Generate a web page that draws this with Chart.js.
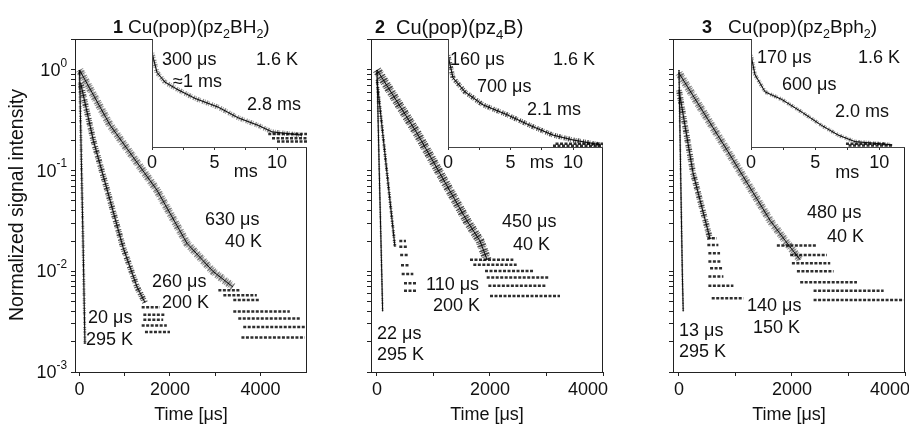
<!DOCTYPE html>
<html>
<head>
<meta charset="utf-8">
<script src="https://cdn.jsdelivr.net/npm/chart.js@4.4.1/dist/chart.umd.min.js"></script>
<style>
  body { margin: 0; background: #fff; }
  #wrap { position: relative; width: 909px; height: 425px; }
  #wrap canvas { position: absolute; left: 0; top: 0; }
</style>
</head>
<body>
<div id="wrap">
  <canvas id="m1" width="909" height="425"></canvas>
  <canvas id="m2" width="909" height="425"></canvas>
  <canvas id="m3" width="909" height="425"></canvas>
  <canvas id="i1" width="909" height="425"></canvas>
  <canvas id="i2" width="909" height="425"></canvas>
  <canvas id="i3" width="909" height="425"></canvas>
</div>
<script>
// ---- axes ----
const yMin = 1e-3, yMax = 2.03;
const yLabelExps = [0, -1, -2, -3];
const xMajorTicks = [0, 2000, 4000];
const xMinorTicks = [1000, 3000];
const insetMajorTicks = [0, 5, 10];
const insetMinorTicks = [2.5, 7.5];

// ---- panel 1: Cu(pop)(pz2BH2), time in µs ----
const p1_40K_t = [0, 674, 1712, 2375, 2950, 3390];
const p1_40K_I = [1.0, 0.284, 0.064, 0.019, 0.010, 0.0070];
const p1_200K_t = [25, 305, 674, 961, 1271, 1447];
const p1_200K_I = [0.74, 0.20, 0.051, 0.0174, 0.0070, 0.0049];
const p1_295K_t = [0, 40, 80, 120];
const p1_295K_I = [1.0, 0.13, 0.018, 0.0019];
// detector floor (quantised rows): level, start, end
const p1_40K_floorI = [0.0065, 0.0058, 0.0052, 0.0040, 0.0034, 0.0028, 0.0022];
const p1_40K_floorA = [3070, 3180, 3400, 3400, 3510, 3620, 3580];
const p1_40K_floorB = [3550, 3920, 3990, 4650, 4870, 4980, 4980];
const p1_200K_floorI = [0.0044, 0.0037, 0.0033, 0.0029, 0.0025];
const p1_200K_floorA = [1374, 1411, 1411, 1374, 1447];
const p1_200K_floorB = [1780, 1890, 1850, 1930, 2000];

// ---- panel 2: Cu(pop)(pz4B) ----
const p2_40K_t = [0, 708, 1588, 1823, 1950];
const p2_40K_I = [1.0, 0.236, 0.032, 0.020, 0.013];
const p2_200K_t = [0, 177, 318];
const p2_200K_I = [0.8, 0.095, 0.0175];
const p2_295K_t = [0, 40, 80, 100];
const p2_295K_I = [1.0, 0.1, 0.012, 0.004];
const p2_40K_floorI = [0.0130, 0.0116, 0.0101, 0.0087, 0.0072, 0.0057];
const p2_40K_floorA = [1646, 1705, 1912, 1942, 1971, 2000];
const p2_40K_floorB = [2413, 2472, 2767, 3032, 3003, 3239];
const p2_200K_floorI = [0.020, 0.0175, 0.0145, 0.0115, 0.0094, 0.0076, 0.0064];
const p2_200K_floorA = [395, 395, 410, 425, 437, 478, 478];
const p2_200K_floorB = [513, 537, 555, 584, 643, 702, 714];

// ---- panel 3: Cu(pop)(pz2Bph2) ----
const p3_40K_t = [0, 850, 1613, 1915, 2145];
const p3_40K_I = [0.93, 0.16, 0.032, 0.019, 0.013];
const p3_150K_t = [0, 248, 372, 550];
const p3_150K_I = [0.63, 0.095, 0.051, 0.021];
const p3_295K_t = [0, 30, 60, 75];
const p3_295K_I = [1.0, 0.09, 0.009, 0.004];
const p3_40K_floorI = [0.018, 0.0145, 0.012, 0.010, 0.0078, 0.0064, 0.0052];
const p3_40K_floorA = [1732, 1968, 1998, 2087, 2145, 2382, 2382];
const p3_40K_floorB = [2441, 2618, 2677, 2736, 3150, 3622, 3977];
const p3_150K_floorI = [0.0213, 0.0183, 0.0151, 0.0125, 0.0107, 0.0089, 0.0072, 0.0054];
const p3_150K_floorA = [502, 502, 520, 520, 550, 520, 520, 579];
const p3_150K_floorB = [668, 697, 727, 757, 786, 786, 963, 1140];

// ---- insets, 1.6 K, time in ms, linear intensity ----
const in1_t = [0, 0.4, 1.04, 2.08, 3.44, 5.28, 6.9, 8.5, 9.6, 12.0];
const in1_I = [0.87, 0.69, 0.60, 0.53, 0.45, 0.37, 0.27, 0.20, 0.14, 0.11];
const in2_t = [0, 0.4, 1.36, 2.8, 4.7, 6.56, 8.4, 10, 12.2];
const in2_I = [0.85, 0.64, 0.51, 0.39, 0.30, 0.20, 0.11, 0.065, 0.02];
const in3_t = [0, 0.31, 1.1, 2.4, 4.0, 5.5, 6.8, 8.1, 11.0];
const in3_I = [0.85, 0.67, 0.51, 0.44, 0.32, 0.20, 0.11, 0.05, 0.02];
const in1_floorI = [0.12, 0.08, 0.05];
const in1_floorA = [9.3, 9.6, 10.0];
const in1_floorB = [12.4, 12.4, 12.4];
const in2_floorI = [0.03, 0.012];
const in2_floorA = [8.6, 8.4];
const in2_floorB = [12.4, 12.4];
const in3_floorI = [0.03, 0.015];
const in3_floorA = [7.4, 7.6];
const in3_floorB = [10.5, 11.0];

const FONT = '"Liberation Sans", Arial, sans-serif';
const INK = '#111';

const yTickVals = [];
for (let e = -3; e <= 0; e++) {
  for (let m = 1; m <= 9; m++) {
    const v = Number((m * Math.pow(10, e)).toPrecision(3));
    if (v <= yMax) yTickVals.push(v);
  }
}

function pts(t, I) { return t.map((x, i) => ({ x: x, y: I[i] })); }

// noisy band = wide irregular-dash stroke (stipple look) + soft middle + thin core
const STIPPLE = [0.8, 1.3, 1.6, 0.9, 0.7, 2.1, 1.2, 1.0];
function decay(t, I, w, shade) {
  return [
    { data: pts(t, I), showLine: true, borderColor: shade, borderWidth: w,
      borderDash: STIPPLE, pointRadius: 0 },
    { data: pts(t, I), showLine: true, borderColor: 'rgba(0,0,0,0.22)', borderWidth: Math.max(w - 3, 1.5),
      pointRadius: 0 },
    { data: pts(t, I), showLine: true, borderColor: '#111', borderWidth: 1, pointRadius: 0 }
  ];
}

function floorRows(I, a, b) {
  return I.map((v, i) => ({
    data: [{ x: a[i], y: v }, { x: b[i], y: v }], showLine: true,
    borderColor: 'rgba(10,10,10,0.85)', borderWidth: 2.5, borderDash: [3, 1.5], pointRadius: 0
  }));
}

function txt(ctx, s, x, y, size, align, bold) {
  ctx.font = (bold ? 'bold ' : '') + size + 'px ' + FONT;
  ctx.fillStyle = INK;
  ctx.textAlign = align || 'left';
  ctx.textBaseline = 'middle';
  ctx.fillText(s, x, y);
}

// parts: [text, 'sub' | 'sup' | '']
function richWidth(ctx, parts, size) {
  let w = 0;
  parts.forEach(([s, k]) => {
    ctx.font = (k ? size * 0.66 : size) + 'px ' + FONT;
    w += ctx.measureText(s).width;
  });
  return w;
}
function rich(ctx, parts, x, y, size) {
  let cx = x;
  ctx.fillStyle = INK;
  ctx.textAlign = 'left';
  ctx.textBaseline = 'middle';
  parts.forEach(([s, k]) => {
    ctx.font = (k ? size * 0.66 : size) + 'px ' + FONT;
    const dy = k === 'sub' ? size * 0.36 : (k === 'sup' ? -size * 0.42 : 0);
    ctx.fillText(s, cx, y + dy);
    cx += ctx.measureText(s).width;
  });
}

const tickGrid = { drawOnChartArea: false, drawTicks: true, tickLength: 4, color: '#222', lineWidth: 1 };

function mainChart(id, datasets, xMin, xMax, pad, yWidth, extra) {
  new Chart(document.getElementById(id), {
    type: 'scatter',
    data: { datasets: datasets },
    options: {
      responsive: false, animation: false, events: [],
      layout: { padding: pad },
      plugins: { legend: { display: false }, tooltip: { enabled: false } },
      scales: {
        x: {
          type: 'linear', min: xMin, max: xMax,
          ticks: { display: false }, grid: tickGrid, border: { display: false },
          afterBuildTicks: s => { s.ticks = xMajorTicks.concat(xMinorTicks).map(v => ({ value: v })); },
          afterFit: s => { s.height = 53; }
        },
        y: {
          type: 'logarithmic', min: yMin, max: yMax,
          ticks: { display: false }, grid: tickGrid, border: { display: false },
          afterBuildTicks: s => { s.ticks = yTickVals.map(v => ({ value: v })); },
          afterFit: s => { s.width = yWidth; }
        }
      }
    },
    plugins: [{
      id: 'deco',
      afterDraw(chart) {
        const ctx = chart.ctx, a = chart.chartArea, sx = chart.scales.x;
        ctx.save();
        ctx.strokeStyle = '#222';
        ctx.lineWidth = 1;
        ctx.strokeRect(a.left + 0.5, a.top + 0.5, a.right - a.left - 1, a.bottom - a.top);
        xMajorTicks.forEach(v => {
          const px = sx.getPixelForValue(v);
          if (px > a.right - 2) txt(ctx, String(v), px + 5, 390, 18, 'right');
          else txt(ctx, String(v), px, 390, 18, 'center');
        });
        txt(ctx, 'Time [\u03bcs]', (a.left + a.right) / 2, 415, 18, 'center');
        extra(ctx, chart);
        ctx.restore();
      }
    }]
  });
}

function insetChart(id, datasets, xMax, pad, msDy, notes) {
  new Chart(document.getElementById(id), {
    type: 'scatter',
    data: { datasets: datasets },
    options: {
      responsive: false, animation: false, events: [],
      layout: { padding: pad },
      plugins: { legend: { display: false }, tooltip: { enabled: false } },
      scales: {
        x: {
          type: 'linear', min: 0, max: xMax,
          ticks: { display: false }, grid: { drawOnChartArea: false, drawTicks: true, tickLength: 3, color: '#333' },
          border: { display: false },
          afterBuildTicks: s => { s.ticks = insetMajorTicks.concat(insetMinorTicks).map(v => ({ value: v })); },
          afterFit: s => { s.height = 278; }
        },
        y: { type: 'linear', min: 0, max: 1, display: false }
      }
    },
    plugins: [{
      id: 'inset',
      beforeDraw(chart) {
        const ctx = chart.ctx, a = chart.chartArea;
        ctx.save();
        ctx.fillStyle = '#fff';
        ctx.fillRect(a.left, a.top, a.right - a.left, a.bottom - a.top);
        ctx.restore();
      },
      afterDraw(chart) {
        const ctx = chart.ctx, a = chart.chartArea, sx = chart.scales.x;
        ctx.save();
        ctx.strokeStyle = '#444';
        ctx.lineWidth = 1;
        ctx.beginPath();
        ctx.moveTo(a.left + 0.5, a.top);
        ctx.lineTo(a.left + 0.5, a.bottom + 0.5);
        ctx.lineTo(a.right, a.bottom + 0.5);
        ctx.stroke();
        insetMajorTicks.forEach(v => txt(ctx, String(v), sx.getPixelForValue(v), a.bottom + 16, 18, 'center'));
        txt(ctx, 'ms', sx.getPixelForValue(7.5), a.bottom + msDy, 18, 'center');
        notes.forEach(n => txt(ctx, n[0], n[1], n[2], 18, n[3] || 'left'));
        ctx.restore();
      }
    }]
  });
}

function yLabels(ctx, chart) {
  const sy = chart.scales.y;
  yLabelExps.forEach(e => {
    const py = sy.getPixelForValue(Math.pow(10, e));
    const parts = [['10', ''], [e === 0 ? '0' : '-' + Math.abs(e), 'sup']];
    const w = richWidth(ctx, parts, 18);
    rich(ctx, parts, 67 - w, py + 1, 18);
  });
  ctx.save();
  ctx.translate(18, 205);
  ctx.rotate(-Math.PI / 2);
  txt(ctx, 'Normalized signal intensity', 0, 0, 19.5, 'center');
  ctx.restore();
}

function notesFn(list, num, numX, formula, fX, fSize) {
  return (ctx) => {
    list.forEach(n => txt(ctx, n[0], n[1], n[2], 18, 'left'));
    txt(ctx, num, numX, 28, 18, 'center', true);
    rich(ctx, formula, fX, 28, fSize);
  };
}

const SH1 = 'rgba(0,0,0,0.45)';
const SH2 = 'rgba(0,0,0,0.7)';

mainChart('m1',
  [].concat(
    decay(p1_40K_t, p1_40K_I, 8, SH1),
    decay(p1_200K_t, p1_200K_I, 6, SH2),
    decay(p1_295K_t, p1_295K_I, 3, SH1),
    floorRows(p1_40K_floorI, p1_40K_floorA, p1_40K_floorB),
    floorRows(p1_200K_floorI, p1_200K_floorA, p1_200K_floorB)
  ),
  -100, 5030, { left: 0, top: 39, right: 602, bottom: 0 }, 75,
  (ctx, chart) => {
    yLabels(ctx, chart);
    notesFn([
      ['630 \u03bcs', 205, 220], ['40 K', 225, 242],
      ['260 \u03bcs', 152, 282], ['200 K', 162, 303],
      ['20 \u03bcs', 88, 318], ['295 K', 86, 340]
    ], '1', 118, [['Cu(pop)(pz', ''], ['2', 'sub'], ['BH', ''], ['2', 'sub'], [')', '']], 128, 19)(ctx);
  });

mainChart('m2',
  [].concat(
    decay(p2_40K_t, p2_40K_I, 9, SH2),
    decay(p2_200K_t, p2_200K_I, 3, SH2),
    decay(p2_295K_t, p2_295K_I, 2, SH1),
    floorRows(p2_40K_floorI, p2_40K_floorA, p2_40K_floorB),
    floorRows(p2_200K_floorI, p2_200K_floorA, p2_200K_floorB)
  ),
  -106, 4000, { left: 359, top: 39, right: 306, bottom: 0 }, 12,
  notesFn([
    ['450 \u03bcs', 502, 222], ['40 K', 513, 245],
    ['110 \u03bcs', 426, 285], ['200 K', 433, 306],
    ['22 \u03bcs', 377, 334], ['295 K', 377, 355]
  ], '2', 380, [['Cu(pop)(pz', ''], ['4', 'sub'], ['B)', '']], 396, 20));

mainChart('m3',
  [].concat(
    decay(p3_40K_t, p3_40K_I, 8, SH1),
    decay(p3_150K_t, p3_150K_I, 6, SH2),
    decay(p3_295K_t, p3_295K_I, 2, SH1),
    floorRows(p3_40K_floorI, p3_40K_floorA, p3_40K_floorB),
    floorRows(p3_150K_floorI, p3_150K_floorA, p3_150K_floorB)
  ),
  -106, 4000, { left: 661, top: 39, right: 4, bottom: 0 }, 12,
  notesFn([
    ['480 \u03bcs', 807, 213], ['40 K', 827, 237],
    ['140 \u03bcs', 747, 306], ['150 K', 753, 328],
    ['13 \u03bcs', 679, 331], ['295 K', 679, 352]
  ], '3', 707, [['Cu(pop)(pz', ''], ['2', 'sub'], ['Bph', ''], ['2', 'sub'], [')', '']], 728, 19));

insetChart('i1',
  [].concat(decay(in1_t, in1_I, 5, SH1), floorRows(in1_floorI, in1_floorA, in1_floorB)),
  12.4, { left: 152, top: 39, right: 602, bottom: 0 }, 25,
  [['300 \u03bcs', 162, 60], ['\u22481 ms', 173, 82], ['1.6 K', 298, 60, 'right'], ['2.8 ms', 301, 105, 'right']]);

insetChart('i2',
  [].concat(decay(in2_t, in2_I, 5, SH2), floorRows(in2_floorI, in2_floorA, in2_floorB)),
  12.4, { left: 448, top: 39, right: 306, bottom: 0 }, 16,
  [['160 \u03bcs', 450, 60], ['700 \u03bcs', 477, 87], ['2.1 ms', 527, 110], ['1.6 K', 595, 60, 'right']]);

insetChart('i3',
  [].concat(decay(in3_t, in3_I, 4, SH1), floorRows(in3_floorI, in3_floorA, in3_floorB)),
  12.0, { left: 751, top: 39, right: 4, bottom: 0 }, 26,
  [['170 \u03bcs', 757, 58], ['600 \u03bcs', 782, 85], ['2.0 ms', 835, 112], ['1.6 K', 900, 58, 'right']]);
</script>
</body>
</html>
